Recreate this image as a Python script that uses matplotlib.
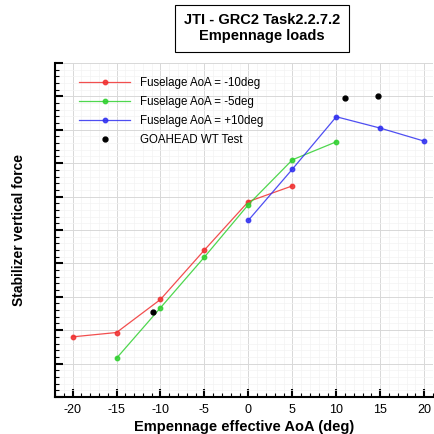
#Stabilizer vertical force vs. empennage effective AoA

import numpy as np
import matplotlib.pyplot as plt
from matplotlib.ticker import MultipleLocator, NullFormatter

plt.rcParams['font.family'] = ['Liberation Sans', 'DejaVu Sans']
plt.rcParams['axes.unicode_minus'] = False

#fuselage AoA = -10deg
aoa_m10 = [-20, -15, -10, -5, 0, 5]
force_m10 = [1.80, 1.93, 2.92, 4.40, 5.85, 6.32]

#fuselage AoA = -5deg
aoa_m5 = [-15, -10, -5, 0, 5, 10]
force_m5 = [1.16, 2.67, 4.19, 5.76, 7.10, 7.64]

#fuselage AoA = +10deg
aoa_p10 = [0, 5, 10, 15, 20]
force_p10 = [5.29, 6.82, 8.39, 8.05, 7.66]

#GOAHEAD wind tunnel
aoa_wt = [-10.9, 11.0, 14.7]
force_wt = [2.54, 8.94, 9.00]

fig = plt.figure(figsize=(4.35, 4.34), dpi=100)
ax = fig.add_axes([0.1264, 0.0853, 0.869, 0.7696])

series = [
    (aoa_m10, force_m10, "#f03030", "Fuselage AoA = -10deg"),
    (aoa_m5, force_m5, "#30d030", "Fuselage AoA = -5deg"),
    (aoa_p10, force_p10, "#3030f0", "Fuselage AoA = +10deg"),
]
for x, y, c, lab in series:
    ax.plot(x, y, "-o", color=c, lw=0.9, ms=3.2, alpha=0.85, label=lab)
ax.plot(aoa_wt, force_wt, "o", color="black", ms=3.5, label="GOAHEAD WT Test")

ax.set_xlim(-22, 21)
ax.set_ylim(0, 10)
ax.xaxis.set_major_locator(MultipleLocator(5))
ax.xaxis.set_minor_locator(MultipleLocator(1))
ax.yaxis.set_major_locator(MultipleLocator(1))
ax.yaxis.set_minor_locator(MultipleLocator(0.2))
ax.yaxis.set_major_formatter(NullFormatter())

ax.grid(which="major", color="#d8d8d8", lw=0.7)
ax.grid(which="minor", color="#f3f3f3", lw=0.5)
ax.set_axisbelow(True)

for s in ["top", "right"]:
    ax.spines[s].set_visible(False)
for s in ["left", "bottom"]:
    ax.spines[s].set_linewidth(1.5)
ax.tick_params(which="major", direction="in", length=6, width=1.5, labelsize=9, pad=5)
ax.tick_params(which="minor", direction="in", length=3, width=0.8)

ax.set_xlabel("Empennage effective AoA (deg)", fontsize=10.5, fontweight="bold", labelpad=3)
ax.set_ylabel("Stabilizer vertical force", fontsize=10, fontweight="bold", labelpad=16)

ax.legend(loc="upper left", bbox_to_anchor=(0.035, 0.99), frameon=False, fontsize=8.3,
          handlelength=4.5, handletextpad=0.8, labelspacing=0.62)

fig.text(0.603, 0.935, "JTI - GRC2 Task2.2.7.2\nEmpennage loads", ha="center", va="center",
         fontsize=10.5, fontweight="bold", linespacing=1.15,
         bbox=dict(boxstyle="square,pad=0.6", fc="white", ec="black", lw=0.8))

fig.savefig("out.png", dpi=100)
